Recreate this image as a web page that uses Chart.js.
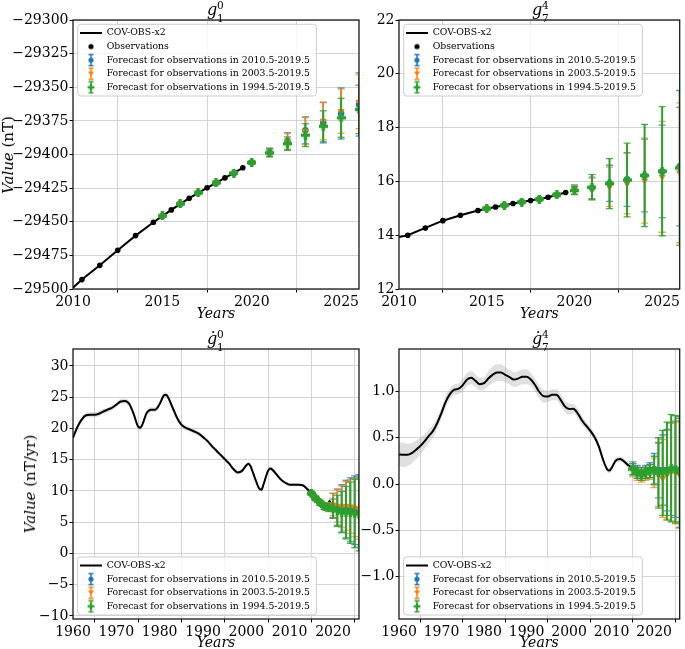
<!DOCTYPE html>
<html>
<head>
<meta charset="utf-8">
<script src="https://cdn.jsdelivr.net/npm/chart.js@4.4.0/dist/chart.umd.min.js"></script>
<style>
body { margin: 0; width: 685px; height: 649px; overflow: hidden; background: #fff; position: relative; color: #000; }
.panel { position: absolute; }
.ttl { position: absolute; width: 30px; height: 26px; }
.ttl .g { position: absolute; left: 0; font: italic 16px/16px 'DejaVu Serif', serif; }
.ttl .sp, .ttl .sb { position: absolute; left: 10px; font: 10.5px/10.5px 'DejaVu Serif', serif; }
.ylab { position: absolute; transform: translate(-50%, -50%) rotate(-90deg); white-space: nowrap; font: 15px 'DejaVu Serif', serif; }
</style>
</head>
<body>
<div class="panel" style="left:0;top:0;width:365px;height:323px"><canvas id="cG10"></canvas></div>
<div class="panel" style="left:345px;top:0;width:340px;height:323px"><canvas id="cG74"></canvas></div>
<div class="panel" style="left:0;top:328px;width:365px;height:324px"><canvas id="cSV10"></canvas></div>
<div class="panel" style="left:345px;top:328px;width:340px;height:324px"><canvas id="cSV74"></canvas></div>

<div class="ttl" style="left:207px;top:0"><span class="g" style="top:1.5px">g</span><span class="sp" style="top:-0.3px">0</span><span class="sb" style="top:12.6px">1</span></div>
<div class="ttl" style="left:532px;top:0"><span class="g" style="top:1.5px">g</span><span class="sp" style="top:-0.3px">4</span><span class="sb" style="top:12.6px">7</span></div>
<div class="ttl" style="left:207px;top:329px"><span class="g" style="top:1.5px">ġ</span><span class="sp" style="top:-0.3px">0</span><span class="sb" style="top:12.6px">1</span></div>
<div class="ttl" style="left:532px;top:329px"><span class="g" style="top:1.5px">ġ</span><span class="sp" style="top:-0.3px">4</span><span class="sb" style="top:12.6px">7</span></div>

<div class="ylab" style="left:8px;top:155px"><i>Value</i> (nT)</div>
<div class="ylab" style="left:30px;top:484px"><i>Value</i> (nT/yr)</div>

<script>
const SERIF = "'DejaVu Serif', serif";
const GRID = '#d3d3d3';
const C_BLUE = '#1f77b4', C_ORANGE = '#ff7f0e', C_GREEN = '#2ca02c';
const CAP_BLUE = 'rgba(31,119,180,0.75)', CAP_ORANGE = 'rgba(255,127,14,0.75)', CAP_GREEN = 'rgba(44,160,44,0.85)';

const LBL_MODEL = 'COV-OBS-x2';
const LBL_OBS = 'Observations';
const LBL_BLUE = 'Forecast for observations in 2010.5-2019.5';
const LBL_ORANGE = 'Forecast for observations in 2003.5-2019.5';
const LBL_GREEN = 'Forecast for observations in 1994.5-2019.5';

// tick labels
const topXTicks = [2010, 2015, 2020, 2025];
const bottomXTicks = [1960, 1970, 1980, 1990, 2000, 2010, 2020];
const g10YTicks = [-29500, -29475, -29450, -29425, -29400, -29375, -29350, -29325, -29300];
const g74YTicks = [12, 14, 16, 18, 20, 22];
const sv10YTicks = [-10, -5, 0, 5, 10, 15, 20, 25, 30];
const sv74YTicks = [-1.0, -0.5, 0.0, 0.5, 1.0];

// observations (top panels)
const obsYears = [2010.5, 2011.5, 2012.5, 2013.5, 2014.5, 2015.5, 2016.5, 2017.5, 2018.5, 2019.5];
const g10Obs = [-29493.0, -29482.4, -29471.2, -29460.3, -29450.4, -29441.2, -29432.5, -29424.8, -29417.4, -29409.9];
const g74Obs = [14.00, 14.27, 14.54, 14.74, 14.92, 15.05, 15.18, 15.29, 15.41, 15.59];

// COV-OBS-x2 model (top panels)
const modelYearsTop = [2010, 2010.5, 2011.5, 2012.5, 2013.5, 2014.5, 2015.5, 2016.5, 2017.5, 2018.5, 2019.5];
const g10Model = [-29499.0, -29493.0, -29482.4, -29471.2, -29460.3, -29450.4, -29441.2, -29432.5, -29424.8, -29417.4, -29409.9];
const g74Model = [13.93, 14.00, 14.27, 14.54, 14.74, 14.92, 15.05, 15.18, 15.29, 15.41, 15.59];

// forecasts
const fcYears = [2015, 2016, 2017, 2018, 2019, 2020, 2021, 2022, 2023, 2024, 2025, 2026];

const g10Blue      = [-29445.7, -29436.7, -29428.5, -29421.1, -29413.9, -29406.0, -29398.3, -29390.0, -29382.0, -29376.4, -29369.5, -29362.8];
const g10BlueErr   = [0.8, 0.8, 0.8, 0.9, 0.9, 1.2, 3.0, 6.2, 10.0, 15.0, 19.0, 23.5];
const g10Orange    = [-29445.7, -29436.7, -29428.5, -29421.1, -29413.9, -29406.0, -29398.5, -29390.3, -29382.6, -29375.0, -29367.7, -29360.8];
const g10OrangeErr = [0.8, 0.8, 0.8, 0.9, 0.9, 1.1, 3.0, 6.0, 10.0, 14.0, 16.5, 20.0];
const g10Green     = [-29445.7, -29436.7, -29428.5, -29421.1, -29413.9, -29406.0, -29398.8, -29392.0, -29385.6, -29379.0, -29372.7, -29366.5];
const g10GreenErr  = [0.7, 0.7, 0.7, 0.8, 0.8, 1.0, 3.0, 5.0, 8.5, 11.5, 14.5, 18.0];

const g74Blue      = [14.99, 15.11, 15.23, 15.34, 15.50, 15.70, 15.76, 15.93, 16.07, 16.22, 16.37, 16.55];
const g74BlueErr   = [0.05, 0.05, 0.05, 0.05, 0.06, 0.17, 0.40, 0.67, 1.00, 1.35, 1.72, 2.20];
const g74Orange    = [14.99, 15.11, 15.23, 15.34, 15.50, 15.68, 15.72, 15.80, 15.92, 16.03, 16.17, 16.32];
const g74OrangeErr = [0.05, 0.05, 0.05, 0.05, 0.06, 0.16, 0.40, 0.73, 1.13, 1.58, 2.06, 2.60];
const g74Green     = [14.99, 15.11, 15.23, 15.34, 15.50, 15.66, 15.78, 15.92, 16.05, 16.22, 16.38, 16.50];
const g74GreenErr  = [0.05, 0.05, 0.05, 0.05, 0.06, 0.15, 0.47, 0.93, 1.37, 1.90, 2.40, 2.88];

// secular variation, COV-OBS-x2 model
const sv10Years = [1960, 1961, 1962, 1963, 1964, 1965, 1966, 1967, 1968, 1969, 1970, 1971, 1972, 1973, 1974, 1975, 1975.5,
  1976, 1977, 1978, 1979, 1980, 1981, 1981.5, 1982, 1983, 1984, 1985, 1986, 1987, 1988, 1989, 1990, 1991, 1992, 1993,
  1994, 1995, 1996, 1997, 1998, 1999, 2000, 2000.5, 2001, 2002, 2003, 2003.5, 2004, 2005, 2005.5, 2006, 2007, 2008,
  2009, 2010, 2011, 2012, 2013, 2014, 2015, 2016, 2017, 2018, 2018.7, 2019.2, 2019.5];
const sv10Model = [18.5, 20.2, 21.4, 22.1, 22.2, 22.2, 22.35, 22.7, 23.0, 23.3, 23.8, 24.3, 24.4, 23.9, 22.3, 20.3, 20.1,
  20.6, 22.45, 23.0, 23.0, 23.9, 25.3, 25.4, 24.9, 23.3, 21.7, 20.6, 20.1, 19.8, 19.5, 19.15, 18.6, 18.0, 17.2, 16.5,
  15.8, 15.1, 14.4, 13.5, 12.96, 13.2, 14.1, 14.35, 13.9, 12.0, 10.35, 10.2, 11.1, 13.2, 13.6, 13.4, 12.6, 11.8,
  11.3, 11.0, 11.0, 11.0, 10.9, 10.35, 9.65, 9.0, 8.2, 7.6, 7.4, 8.4, 8.0];
const sv10Sigma = [0.45, 0.45, 0.45, 0.4, 0.4, 0.4, 0.4, 0.4, 0.4, 0.4, 0.4, 0.4, 0.4, 0.4, 0.4, 0.4, 0.4,
  0.4, 0.4, 0.4, 0.4, 0.4, 0.4, 0.4, 0.4, 0.4, 0.4, 0.4, 0.35, 0.35, 0.35, 0.35, 0.35, 0.35, 0.35, 0.35,
  0.35, 0.35, 0.35, 0.35, 0.35, 0.35, 0.3, 0.3, 0.3, 0.3, 0.3, 0.3, 0.3, 0.3, 0.3, 0.3, 0.3, 0.3,
  0.3, 0.25, 0.25, 0.25, 0.25, 0.25, 0.25, 0.25, 0.25, 0.25, 0.25, 0.25, 0.25];

const sv74Years = [1960, 1961, 1962, 1963, 1964, 1965, 1966, 1967, 1968, 1969, 1970, 1971, 1972, 1973, 1974, 1975,
  1976, 1977, 1978, 1979, 1980, 1981, 1982, 1983, 1984, 1985, 1986, 1987, 1988, 1989, 1990, 1991, 1992, 1993, 1994,
  1995, 1996, 1997, 1998, 1999, 2000, 2001, 2002, 2003, 2004, 2005, 2006, 2007, 2008, 2009, 2009.5, 2010, 2011, 2012,
  2013, 2014, 2015];
const sv74Model = [0.32, 0.315, 0.315, 0.333, 0.37, 0.41, 0.46, 0.52, 0.575, 0.66, 0.77, 0.89, 0.975, 1.02, 1.03, 1.07,
  1.13, 1.15, 1.115, 1.08, 1.09, 1.14, 1.18, 1.205, 1.205, 1.18, 1.155, 1.13, 1.14, 1.16, 1.16, 1.13, 1.07, 0.995, 0.95,
  0.945, 0.965, 0.965, 0.91, 0.84, 0.81, 0.815, 0.765, 0.69, 0.63, 0.575, 0.505, 0.405, 0.26, 0.155, 0.145, 0.175, 0.255, 0.27,
  0.24, 0.2, 0.17];
const sv74Sigma = [0.13, 0.13, 0.12, 0.11, 0.10, 0.09, 0.08, 0.07, 0.07, 0.06, 0.06, 0.06, 0.06, 0.06, 0.06, 0.07,
  0.07, 0.07, 0.07, 0.07, 0.07, 0.08, 0.09, 0.09, 0.09, 0.08, 0.08, 0.08, 0.08, 0.08, 0.08, 0.07, 0.07, 0.07, 0.07,
  0.06, 0.06, 0.06, 0.06, 0.06, 0.06, 0.05, 0.05, 0.05, 0.04, 0.04, 0.04, 0.04, 0.03, 0.03, 0.03, 0.03, 0.03, 0.03,
  0.03, 0.03, 0.03];

const sv10Blue      = [9.6, 8.8, 8.1, 7.6, 7.5, 7.6, 7.4, 7.2, 7.1, 7.0, 6.9, 6.8];
const sv10BlueErr   = [0.3, 0.35, 0.4, 0.5, 0.6, 2.0, 2.9, 3.8, 4.6, 5.1, 5.5, 5.8];
const sv10Orange    = [9.6, 8.8, 8.1, 7.6, 7.5, 7.8, 7.6, 7.5, 7.6, 7.5, 7.3, 7.1];
const sv10OrangeErr = [0.3, 0.35, 0.4, 0.5, 0.6, 1.8, 2.6, 3.3, 3.9, 4.3, 4.6, 4.8];
const sv10Green     = [9.6, 8.8, 8.1, 7.5, 7.3, 7.2, 6.8, 6.6, 6.5, 6.5, 6.4, 6.3];
const sv10GreenErr  = [0.3, 0.35, 0.4, 0.5, 0.6, 1.5, 2.5, 3.3, 4.2, 4.9, 5.5, 5.9];

const sv74Blue      = [0.17, 0.13, 0.11, 0.13, 0.15, 0.16, 0.15, 0.15, 0.15, 0.16, 0.16, 0.15];
const sv74BlueErr   = [0.07, 0.07, 0.07, 0.07, 0.08, 0.17, 0.30, 0.38, 0.44, 0.50, 0.52, 0.56];
const sv74Orange    = [0.15, 0.11, 0.09, 0.11, 0.13, 0.12, 0.10, 0.06, 0.10, 0.13, 0.12, 0.10];
const sv74OrangeErr = [0.07, 0.07, 0.07, 0.07, 0.08, 0.16, 0.34, 0.42, 0.48, 0.53, 0.55, 0.58];
const sv74Green     = [0.16, 0.12, 0.10, 0.12, 0.14, 0.15, 0.12, 0.12, 0.14, 0.17, 0.16, 0.13];
const sv74GreenErr  = [0.06, 0.06, 0.06, 0.06, 0.07, 0.15, 0.38, 0.46, 0.53, 0.58, 0.58, 0.60];

// marker pictures
function plusMarker(size, color) {
  const c = document.createElement('canvas');
  c.width = size; c.height = size;
  const g = c.getContext('2d');
  const t = size * 0.38, o = (size - t) / 2;
  g.fillStyle = color;
  g.fillRect(0, o, size, t);
  g.fillRect(o, 0, t, size);
  return c;
}
const greenPlus = plusMarker(9, C_GREEN);

function handle(color, kind) {
  const c = document.createElement('canvas');
  c.width = 10; c.height = 14;
  const g = c.getContext('2d');
  g.strokeStyle = color; g.fillStyle = color; g.lineWidth = 1.4;
  g.beginPath();
  g.moveTo(5, 1.5); g.lineTo(5, 12.5);
  g.moveTo(2.5, 1.5); g.lineTo(7.5, 1.5);
  g.moveTo(2.5, 12.5); g.lineTo(7.5, 12.5);
  g.stroke();
  g.beginPath();
  if (kind === 'circle') {
    g.arc(5, 7, 2.6, 0, Math.PI * 2);
    g.fill();
  } else if (kind === 'tri') {
    g.moveTo(2, 4.8); g.lineTo(8, 4.8); g.lineTo(5, 9.6); g.closePath();
    g.fill();
  } else {
    g.fillRect(1.6, 5.8, 6.8, 2.4);
    g.fillRect(3.8, 3.6, 2.4, 6.8);
  }
  return c;
}
function dot(color) {
  const c = document.createElement('canvas');
  c.width = 8; c.height = 8;
  const g = c.getContext('2d');
  g.fillStyle = color;
  g.beginPath(); g.arc(4, 4, 2.6, 0, Math.PI * 2); g.fill();
  return c;
}

const legendModel = {text: LBL_MODEL, pointStyle: 'line', strokeStyle: '#000', fillStyle: '#000', lineWidth: 2, hidden: false};
const legendObs = {text: LBL_OBS, pointStyle: dot('#000'), strokeStyle: '#000', fillStyle: '#000', lineWidth: 0, hidden: false};
const legendBlue = {text: LBL_BLUE, pointStyle: handle(C_BLUE, 'circle'), lineWidth: 0, hidden: false};
const legendOrange = {text: LBL_ORANGE, pointStyle: handle(C_ORANGE, 'tri'), lineWidth: 0, hidden: false};
const legendGreen = {text: LBL_GREEN, pointStyle: handle(C_GREEN, 'plus'), lineWidth: 0, hidden: false};

const xy = (xs, ys) => xs.map((x, i) => ({x: x, y: ys[i]}));

function errorbarSets(label, color, capColor, years, vals, errs, marker, stemW) {
  const pts = xy(years, vals);
  const caps = years.flatMap((x, i) => [{x: x, y: vals[i] - errs[i]}, {x: x, y: vals[i] + errs[i]}]);
  const stems = years.map((x, i) => ({x: x, y: [vals[i] - errs[i], vals[i] + errs[i]]}));
  return [
    Object.assign({type: 'scatter', label: label, data: pts, clip: 0, backgroundColor: color,
      pointBackgroundColor: color, pointBorderWidth: 0}, marker),
    {type: 'scatter', label: label, data: caps, clip: 0, pointStyle: 'line', pointRadius: 3.5,
      pointBorderColor: capColor, pointBorderWidth: 1.3},
    {type: 'bar', label: label, data: stems, clip: 0, backgroundColor: color, maxBarThickness: stemW, grouped: false}
  ];
}

function forecastSets(b, be, o, oe, g, ge) {
  return [].concat(
    errorbarSets(LBL_GREEN, C_GREEN, CAP_GREEN, fcYears, g, ge, {pointStyle: greenPlus, pointRadius: 4.5}, 2),
    errorbarSets(LBL_ORANGE, C_ORANGE, CAP_ORANGE, fcYears, o, oe, {pointStyle: 'triangle', pointRotation: 180, pointRadius: 4.2}, 1.5),
    errorbarSets(LBL_BLUE, C_BLUE, CAP_BLUE, fcYears, b, be, {pointStyle: 'circle', pointRadius: 3.3}, 1.5)
  );
}

function modelLine(years, vals, smooth) {
  return {type: 'line', label: LBL_MODEL, data: xy(years, vals), clip: 0, borderColor: '#000', borderWidth: 2,
    pointRadius: 0, fill: false, cubicInterpolationMode: smooth ? 'monotone' : 'default', tension: 0};
}
function band(years, vals, sig) {
  const up = years.map((x, i) => ({x: x, y: vals[i] + sig[i]}));
  const lo = years.map((x, i) => ({x: x, y: vals[i] - sig[i]}));
  const common = {type: 'line', clip: 0, borderColor: 'rgba(0,0,0,0)', borderWidth: 0, pointRadius: 0,
    cubicInterpolationMode: 'monotone', backgroundColor: 'rgba(160,160,160,0.32)'};
  return [Object.assign({label: 'band', data: up, fill: '+1'}, common),
          Object.assign({label: 'band', data: lo, fill: false}, common)];
}

// legend frame drawn behind the legend, legend placed like matplotlib's
const legendBox = {
  id: 'legendBox',
  afterLayout(chart, args, opts) {
    const lg = chart.legend;
    if (!lg) return;
    lg.$bottom = !!opts.bottom;
    if (lg.$wrapped) return;
    lg.$wrapped = true;
    const orig = lg.draw;
    lg.draw = function () {
      const ctx = chart.ctx, ca = chart.chartArea;
      const lab = this.options.labels;
      const pad = lab.padding, fs = lab.font.size;
      const n = this.legendItems.length;
      const colW = this.columnSizes && this.columnSizes[0] ? this.columnSizes[0].width : 200;
      const innerH = n * fs + (n - 1) * pad;
      const padL = 2.3, padR = 6.4, padT = 4, padB = 4;
      const fw = colW + padL + padR, fh = innerH + padT + padB;
      const fx = ca.left + 4.7;
      const fy = this.$bottom ? ca.bottom - 4 - fh : ca.top + 4.3;
      ctx.save();
      ctx.beginPath();
      ctx.roundRect(fx, fy, fw, fh, 3);
      ctx.fillStyle = 'rgba(255,255,255,0.82)';
      ctx.fill();
      ctx.strokeStyle = '#cccccc';
      ctx.lineWidth = 1;
      ctx.stroke();
      ctx.restore();
      const saved = {left: this.left, top: this.top, right: this.right, bottom: this.bottom};
      this.left = fx + padL - pad;
      this.top = fy + padT - pad;
      this.right = this.left + fw + 500;
      this.bottom = this.top + 2000;
      orig.apply(this, arguments);
      Object.assign(this, saved);
    };
  }
};

const axesFrame = {
  id: 'axesFrame',
  afterDatasetsDraw(chart) {
    const {ctx, chartArea: a} = chart;
    ctx.save();
    ctx.strokeStyle = '#1a1a1a';
    ctx.lineWidth = 1.3;
    ctx.strokeRect(a.left, a.top, a.right - a.left, a.bottom - a.top);
    ctx.restore();
  }
};

const minus = s => String(s).replace('-', '\u2212');

function buildChart(id, p) {
  return new Chart(document.getElementById(id), {
    type: 'scatter',
    data: {datasets: p.datasets},
    options: {
      responsive: true,
      maintainAspectRatio: false,
      animation: false,
      events: [],
      layout: {padding: {left: 0, top: p.padTop, right: p.padRight, bottom: 0}},
      scales: {
        x: {
          type: 'linear', min: p.xMin, max: p.xMax, offset: false,
          afterBuildTicks: s => { s.ticks = p.xTicks.map(v => ({value: v})); },
          afterFit: s => { s.height = p.xAxisH; },
          grid: {color: GRID, lineWidth: 1, tickLength: 3.5, tickColor: '#000', tickWidth: 1},
          border: {display: false},
          ticks: {color: '#000', font: {family: SERIF, size: 14}, padding: 1, maxRotation: 0, autoSkip: false,
            callback: v => String(v)},
          title: {display: true, text: 'Years', color: '#000', font: {family: SERIF, size: 14, style: 'italic'},
            padding: {top: 0, bottom: 0}}
        },
        y: {
          type: 'linear', min: p.yMin, max: p.yMax,
          afterBuildTicks: s => { s.ticks = p.yTicks.map(v => ({value: v})); },
          afterFit: s => { s.width = p.yAxisW; },
          grid: {color: GRID, lineWidth: 1, tickLength: 3.5, tickColor: '#000', tickWidth: 1},
          border: {display: false},
          ticks: {color: '#000', font: {family: SERIF, size: 14}, padding: 1, autoSkip: false, callback: p.yFmt}
        }
      },
      plugins: {
        tooltip: {enabled: false},
        legend: {
          display: true, position: 'chartArea', align: 'start',
          labels: {usePointStyle: true, pointStyleWidth: 22, padding: 4.3, color: '#000',
            font: {family: SERIF, size: 9.3}, generateLabels: () => p.legend}
        },
        legendBox: {bottom: p.legendBottom}
      }
    },
    plugins: [legendBox, axesFrame]
  });
}

buildChart('cG10', {
  xMin: 2010, xMax: 2026, xTicks: topXTicks, yMin: -29500, yMax: -29300, yTicks: g10YTicks,
  yFmt: v => minus(v), yAxisW: 73, padTop: 20, padRight: 6, xAxisH: 34, legendBottom: false,
  legend: [legendModel, legendObs, legendBlue, legendOrange, legendGreen],
  datasets: forecastSets(g10Blue, g10BlueErr, g10Orange, g10OrangeErr, g10Green, g10GreenErr).concat([
    {type: 'scatter', label: LBL_OBS, data: xy(obsYears, g10Obs), clip: 0, pointRadius: 2.8,
      pointBackgroundColor: '#000', pointBorderWidth: 0},
    modelLine(modelYearsTop, g10Model, false)
  ])
});

buildChart('cG74', {
  xMin: 2010, xMax: 2026, xTicks: topXTicks, yMin: 12, yMax: 22, yTicks: g74YTicks,
  yFmt: v => minus(v), yAxisW: 54, padTop: 20, padRight: 2, xAxisH: 34, legendBottom: false,
  legend: [legendModel, legendObs, legendBlue, legendOrange, legendGreen],
  datasets: forecastSets(g74Blue, g74BlueErr, g74Orange, g74OrangeErr, g74Green, g74GreenErr).concat([
    {type: 'scatter', label: LBL_OBS, data: xy(obsYears, g74Obs), clip: 0, pointRadius: 2.8,
      pointBackgroundColor: '#000', pointBorderWidth: 0},
    modelLine(modelYearsTop, g74Model, false)
  ])
});

buildChart('cSV10', {
  xMin: 1960, xMax: 2026, xTicks: bottomXTicks, yMin: -10.5, yMax: 32.7, yTicks: sv10YTicks,
  yFmt: v => minus(v), yAxisW: 73, padTop: 21, padRight: 6, xAxisH: 33, legendBottom: true,
  legend: [legendModel, legendBlue, legendOrange, legendGreen],
  datasets: forecastSets(sv10Blue, sv10BlueErr, sv10Orange, sv10OrangeErr, sv10Green, sv10GreenErr).concat(
    [modelLine(sv10Years, sv10Model, true)], band(sv10Years, sv10Model, sv10Sigma))
});

buildChart('cSV74', {
  xMin: 1960, xMax: 2026, xTicks: bottomXTicks, yMin: -1.46, yMax: 1.46, yTicks: sv74YTicks,
  yFmt: v => minus(Number(v).toFixed(1)), yAxisW: 54, padTop: 21, padRight: 2, xAxisH: 33, legendBottom: true,
  legend: [legendModel, legendBlue, legendOrange, legendGreen],
  datasets: forecastSets(sv74Blue, sv74BlueErr, sv74Orange, sv74OrangeErr, sv74Green, sv74GreenErr).concat(
    [modelLine(sv74Years, sv74Model, true)], band(sv74Years, sv74Model, sv74Sigma))
});
</script>
</body>
</html>
